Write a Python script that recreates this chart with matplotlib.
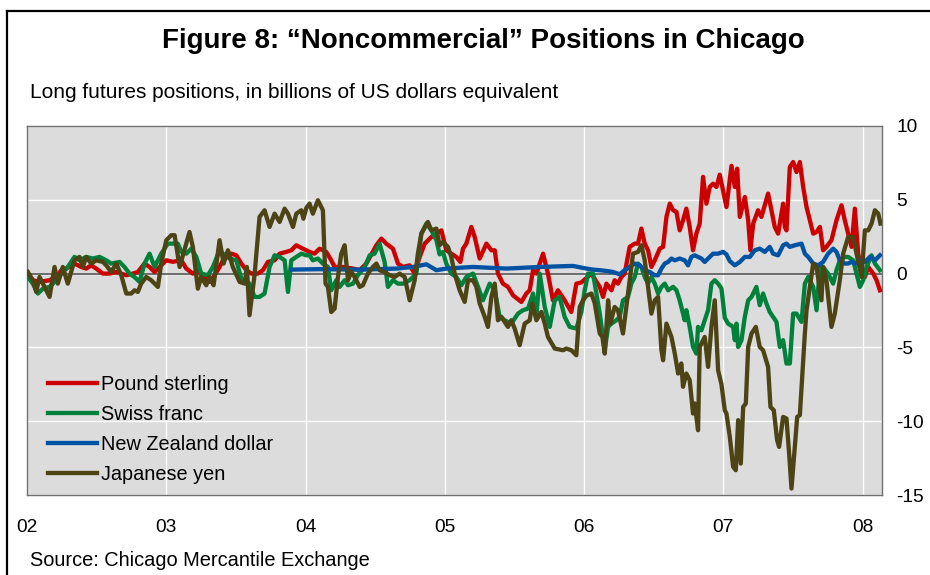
import matplotlib
matplotlib.use("Agg")
import matplotlib.pyplot as plt
from matplotlib.lines import Line2D

plt.rcParams['font.family'] = ['Liberation Sans', 'DejaVu Sans']
plt.rcParams['axes.unicode_minus'] = False

# Weekly noncommercial long positions, billions of USD equivalent (decimal years)
gbp_t = [2002.006, 2002.042, 2002.090, 2002.162, 2002.210, 2002.246, 2002.282, 2002.341, 2002.389, 2002.425,
         2002.461, 2002.497, 2002.545, 2002.593, 2002.641, 2002.677, 2002.713, 2002.760, 2002.796, 2002.844,
         2002.880, 2002.916, 2002.952, 2003.000, 2003.047, 2003.108, 2003.144, 2003.191, 2003.227, 2003.263,
         2003.311, 2003.347, 2003.383, 2003.431, 2003.467, 2003.503, 2003.539, 2003.575, 2003.611, 2003.658,
         2003.694, 2003.730, 2003.778, 2003.814, 2003.862, 2003.898, 2003.934, 2003.981, 2004.029, 2004.065,
         2004.101, 2004.149, 2004.185, 2004.209, 2004.269, 2004.341, 2004.389, 2004.437, 2004.509, 2004.545,
         2004.580, 2004.628, 2004.664, 2004.700, 2004.748, 2004.784, 2004.820, 2004.856, 2004.904, 2004.940,
         2004.976, 2005.011, 2005.047, 2005.083, 2005.112, 2005.131, 2005.155, 2005.191, 2005.215, 2005.251,
         2005.299, 2005.335, 2005.359, 2005.382, 2005.418, 2005.454, 2005.490, 2005.550, 2005.586, 2005.610,
         2005.634, 2005.658, 2005.706, 2005.741, 2005.777, 2005.813, 2005.861, 2005.909, 2005.945, 2005.981,
         2006.017, 2006.053, 2006.113, 2006.137, 2006.161, 2006.197, 2006.220, 2006.244, 2006.268, 2006.292,
         2006.328, 2006.364, 2006.388, 2006.412, 2006.436, 2006.460, 2006.484, 2006.508, 2006.544, 2006.568,
         2006.592, 2006.616, 2006.640, 2006.664, 2006.687, 2006.711, 2006.735, 2006.759, 2006.783, 2006.807,
         2006.831, 2006.855, 2006.879, 2006.903, 2006.927, 2006.951, 2006.975, 2006.999, 2007.023, 2007.059,
         2007.083, 2007.100, 2007.119, 2007.155, 2007.179, 2007.195, 2007.215, 2007.250, 2007.274, 2007.322,
         2007.346, 2007.370, 2007.394, 2007.430, 2007.442, 2007.454, 2007.478, 2007.502, 2007.526, 2007.550,
         2007.574, 2007.598, 2007.622, 2007.646, 2007.670, 2007.694, 2007.717, 2007.741, 2007.777, 2007.813,
         2007.849, 2007.873, 2007.897, 2007.921, 2007.945, 2007.969, 2007.993, 2008.017, 2008.041, 2008.077,
         2008.101, 2008.125]
gbp_v = [-0.11, -0.45, -0.56, -0.45, -0.23, 0.23, 0.34, 0.68, 0.45, 0.34,
         0.56, 0.34, 0.00, 0.00, 0.11, 0.00, -0.11, 0.00, 0.11, 0.68,
         0.45, 0.11, 0.45, 0.90, 0.80, 0.90, 0.34, 0.00, 0.23, -0.23,
         -0.56, -0.11, 0.45, 1.35, 1.35, 1.24, 0.68, 0.23, 0.00, 0.00,
         0.23, 0.79, 0.90, 1.35, 1.47, 1.58, 1.92, 1.69, 1.47, 1.35,
         1.69, 1.47, 0.90, 0.45, 0.45, 0.34, 0.23, 0.68, 1.92, 2.37,
         2.03, 1.69, 0.68, 0.45, 0.56, 0.00, 1.13, 2.03, 2.48, 2.71,
         2.93, 1.58, 1.35, 1.13, 0.79, 1.69, 2.03, 3.16, 2.48, 1.02,
         2.03, 1.58, 1.58, 0.00, -0.68, -0.90, -1.47, -1.92, -1.35, -1.13,
         0.23, 0.00, 1.35, 0.00, -1.81, -1.13, -1.81, -2.60, -0.68, -0.60,
         -0.30, 0.00, -0.90, -1.58, -0.68, -1.13, -0.45, -0.68, -0.23, 0.00,
         1.81, 2.03, 2.03, 3.05, 2.03, 1.58, 0.45, 0.90, 1.69, 1.81,
         3.84, 4.74, 4.29, 4.18, 2.93, 3.61, 4.40, 3.16, 1.58, 2.71,
         3.39, 6.55, 4.74, 5.87, 6.09, 5.87, 6.70, 5.60, 4.51, 7.30,
         5.87, 7.11, 3.84, 5.19, 3.61, 1.58, 3.39, 4.29, 3.84, 5.42,
         4.29, 3.16, 2.71, 4.74, 3.16, 2.93, 7.22, 7.56, 6.88, 7.56,
         5.87, 4.51, 3.61, 2.71, 2.82, 3.16, 1.58, 1.81, 2.26, 3.61,
         4.63, 3.61, 2.71, 1.81, 4.40, 1.35, 0.00, -0.23, 0.45, 0.00,
         -0.45, -1.13]

chf_t = [2002.006, 2002.042, 2002.078, 2002.114, 2002.162, 2002.210, 2002.257, 2002.293, 2002.341, 2002.377,
         2002.425, 2002.473, 2002.521, 2002.569, 2002.605, 2002.665, 2002.700, 2002.736, 2002.772, 2002.808,
         2002.844, 2002.880, 2002.916, 2002.964, 2003.011, 2003.047, 2003.083, 2003.108, 2003.144, 2003.180,
         2003.216, 2003.251, 2003.299, 2003.335, 2003.383, 2003.419, 2003.455, 2003.503, 2003.539, 2003.598,
         2003.634, 2003.670, 2003.706, 2003.742, 2003.778, 2003.814, 2003.850, 2003.874, 2003.898, 2003.934,
         2003.970, 2004.006, 2004.029, 2004.053, 2004.089, 2004.125, 2004.161, 2004.185, 2004.221, 2004.245,
         2004.281, 2004.305, 2004.341, 2004.376, 2004.425, 2004.461, 2004.496, 2004.532, 2004.568, 2004.592,
         2004.628, 2004.664, 2004.700, 2004.748, 2004.796, 2004.832, 2004.868, 2004.904, 2004.940, 2004.963,
         2004.987, 2005.011, 2005.047, 2005.083, 2005.119, 2005.155, 2005.203, 2005.239, 2005.274, 2005.323,
         2005.359, 2005.394, 2005.430, 2005.478, 2005.526, 2005.562, 2005.598, 2005.634, 2005.658, 2005.682,
         2005.718, 2005.754, 2005.790, 2005.825, 2005.861, 2005.897, 2005.945, 2005.981, 2006.005, 2006.029,
         2006.065, 2006.089, 2006.113, 2006.149, 2006.173, 2006.197, 2006.232, 2006.256, 2006.280, 2006.316,
         2006.340, 2006.364, 2006.388, 2006.412, 2006.436, 2006.460, 2006.484, 2006.508, 2006.532, 2006.556,
         2006.580, 2006.604, 2006.640, 2006.664, 2006.687, 2006.723, 2006.735, 2006.759, 2006.783, 2006.807,
         2006.819, 2006.843, 2006.867, 2006.891, 2006.915, 2006.939, 2006.963, 2006.987, 2007.011, 2007.035,
         2007.071, 2007.083, 2007.095, 2007.107, 2007.131, 2007.155, 2007.179, 2007.203, 2007.238, 2007.262,
         2007.286, 2007.310, 2007.334, 2007.358, 2007.382, 2007.406, 2007.430, 2007.454, 2007.478, 2007.502,
         2007.526, 2007.562, 2007.586, 2007.610, 2007.646, 2007.670, 2007.694, 2007.717, 2007.753, 2007.789,
         2007.813, 2007.837, 2007.873, 2007.897, 2007.933, 2007.957, 2007.981, 2008.005, 2008.029, 2008.065,
         2008.089, 2008.125]
chf_v = [-0.23, -0.68, -1.35, -1.02, -0.90, -0.45, 0.11, 0.45, 1.13, 0.90,
         1.13, 1.02, 1.13, 0.90, 0.68, 0.79, 0.45, 0.00, -0.23, -0.56,
         0.68, 1.35, 0.45, 1.35, 2.03, 2.03, 2.03, 1.47, 1.35, 1.69,
         1.13, 0.00, -0.11, 0.45, 1.58, 1.24, 1.02, 0.90, -0.34, -0.68,
         -1.58, -1.58, -1.35, 0.45, 1.24, 1.13, 0.90, -1.24, 0.90, 1.13,
         1.35, 1.24, 1.24, 0.90, 1.02, 0.68, 0.45, -1.13, -0.45, -0.90,
         -0.45, -0.79, -0.68, -0.11, 0.45, 1.24, 1.35, 2.03, 0.79, -0.90,
         -0.45, -0.68, -0.68, -0.45, 0.00, 2.71, 3.39, 2.93, 2.26, 1.30,
         1.47, 0.68, 0.00, -0.23, -0.79, -0.23, 0.00, -0.90, -1.81, -0.68,
         -1.13, -2.93, -3.16, -3.39, -2.71, -2.48, -2.37, -1.35, -2.93, 0.00,
         -2.26, -3.61, -1.81, -1.58, -2.93, -3.61, -3.72, -2.60, -1.13, 0.00,
         0.00, -1.35, -2.71, -5.19, -3.61, -3.39, -3.16, -2.93, -1.81, -1.58,
         -0.68, -0.23, 0.68, 0.45, -0.23, -0.68, -0.23, -0.68, -1.35, -0.90,
         -0.68, -1.13, -0.90, -1.13, -1.81, -3.16, -2.48, -3.61, -4.97, -5.42,
         -3.61, -3.84, -3.16, -2.48, -0.68, -0.45, -0.68, -1.00, -3.00, -3.39,
         -3.61, -4.51, -3.39, -4.97, -4.51, -2.93, -1.81, -1.58, -0.90, -2.14,
         -1.35, -2.03, -2.60, -2.93, -3.27, -4.97, -4.51, -6.09, -6.09, -2.71,
         -2.71, -3.27, -0.68, -0.23, -0.90, -2.48, 0.45, 0.45, 0.00, -0.68,
         0.23, 0.90, 1.13, 1.13, 0.90, 0.00, -0.90, -0.45, 0.45, 1.24,
         0.68, 0.23]

nzd_t = [2003.898, 2004.100, 2004.400, 2004.650, 2004.772, 2004.868, 2004.940, 2005.011, 2005.203, 2005.442,
         2005.682, 2005.921, 2006.017, 2006.065, 2006.113, 2006.161, 2006.208, 2006.256, 2006.292, 2006.328,
         2006.364, 2006.400, 2006.436, 2006.472, 2006.508, 2006.532, 2006.556, 2006.580, 2006.604, 2006.628,
         2006.652, 2006.687, 2006.723, 2006.747, 2006.771, 2006.795, 2006.819, 2006.843, 2006.867, 2006.891,
         2006.927, 2006.963, 2006.999, 2007.023, 2007.047, 2007.083, 2007.119, 2007.155, 2007.191, 2007.226,
         2007.262, 2007.298, 2007.334, 2007.358, 2007.394, 2007.430, 2007.454, 2007.478, 2007.514, 2007.562,
         2007.586, 2007.610, 2007.646, 2007.682, 2007.717, 2007.753, 2007.789, 2007.813, 2007.837, 2007.873,
         2007.897, 2007.921, 2007.945, 2007.981, 2008.017, 2008.053, 2008.089, 2008.125]
nzd_v = [0.27, 0.30, 0.27, 0.34, 0.45, 0.63, 0.23, 0.34, 0.45, 0.34,
         0.45, 0.52, 0.34, 0.27, 0.23, 0.18, 0.11, -0.05, 0.23, 0.45,
         0.68, 0.56, 0.23, 0.11, -0.11, -0.11, 0.34, 0.68, 0.79, 1.02,
         0.90, 1.02, 0.90, 0.56, 1.13, 1.24, 1.13, 1.02, 0.79, 1.02,
         1.35, 1.35, 1.47, 1.30, 0.85, 0.56, 0.79, 1.13, 1.13, 1.58,
         1.69, 1.47, 1.81, 1.35, 1.24, 1.92, 2.03, 1.81, 1.92, 2.03,
         1.35, 1.13, 0.68, 0.56, 0.79, 1.35, 1.69, 1.47, 0.90, 0.68,
         0.68, 0.79, 0.68, 0.90, 0.79, 1.13, 0.90, 1.24]

jpy_t = [2002.006, 2002.042, 2002.066, 2002.090, 2002.126, 2002.162, 2002.198, 2002.221, 2002.257, 2002.293,
         2002.341, 2002.377, 2002.401, 2002.425, 2002.461, 2002.497, 2002.545, 2002.569, 2002.605, 2002.641,
         2002.677, 2002.713, 2002.749, 2002.772, 2002.796, 2002.820, 2002.856, 2002.892, 2002.940, 2002.964,
         2003.000, 2003.036, 2003.060, 2003.096, 2003.167, 2003.191, 2003.227, 2003.251, 2003.287, 2003.311,
         2003.340, 2003.383, 2003.412, 2003.443, 2003.478, 2003.527, 2003.563, 2003.579, 2003.598, 2003.634,
         2003.670, 2003.706, 2003.742, 2003.778, 2003.814, 2003.850, 2003.874, 2003.910, 2003.934, 2003.970,
         2003.985, 2004.006, 2004.029, 2004.053, 2004.089, 2004.125, 2004.144, 2004.161, 2004.185, 2004.209,
         2004.233, 2004.257, 2004.281, 2004.305, 2004.329, 2004.353, 2004.389, 2004.412, 2004.448, 2004.484,
         2004.509, 2004.532, 2004.568, 2004.604, 2004.640, 2004.676, 2004.712, 2004.748, 2004.784, 2004.807,
         2004.832, 2004.879, 2004.904, 2004.940, 2004.963, 2004.987, 2005.023, 2005.047, 2005.071, 2005.107,
         2005.143, 2005.167, 2005.203, 2005.227, 2005.251, 2005.287, 2005.310, 2005.335, 2005.359, 2005.382,
         2005.407, 2005.430, 2005.454, 2005.478, 2005.502, 2005.538, 2005.574, 2005.610, 2005.629, 2005.658,
         2005.694, 2005.718, 2005.741, 2005.790, 2005.849, 2005.873, 2005.909, 2005.945, 2005.969, 2005.993,
         2006.017, 2006.053, 2006.077, 2006.113, 2006.132, 2006.149, 2006.161, 2006.173, 2006.189, 2006.220,
         2006.244, 2006.280, 2006.304, 2006.328, 2006.352, 2006.388, 2006.412, 2006.436, 2006.460, 2006.484,
         2006.508, 2006.532, 2006.556, 2006.568, 2006.592, 2006.628, 2006.652, 2006.676, 2006.699, 2006.711,
         2006.735, 2006.759, 2006.783, 2006.795, 2006.819, 2006.831, 2006.867, 2006.891, 2006.915, 2006.939,
         2006.963, 2006.987, 2007.011, 2007.023, 2007.047, 2007.071, 2007.090, 2007.107, 2007.126, 2007.143,
         2007.162, 2007.179, 2007.203, 2007.234, 2007.262, 2007.286, 2007.322, 2007.339, 2007.363, 2007.387,
         2007.401, 2007.430, 2007.454, 2007.473, 2007.490, 2007.531, 2007.550, 2007.586, 2007.598, 2007.622,
         2007.646, 2007.670, 2007.705, 2007.717, 2007.741, 2007.777, 2007.801, 2007.837, 2007.861, 2007.897,
         2007.933, 2007.957, 2007.993, 2008.017, 2008.041, 2008.065, 2008.089, 2008.113, 2008.129]
jpy_v = [0.11, -0.45, -1.24, -0.23, -0.90, -1.58, 0.45, -0.68, 0.45, -0.68,
         0.90, 1.13, 0.45, 1.13, 0.68, 0.90, 0.79, 0.56, 0.11, 0.68,
         -0.11, -1.35, -1.35, -1.13, -1.24, -0.68, -0.23, -0.45, -0.90, 0.68,
         2.26, 2.60, 2.60, 0.45, 2.82, 1.81, -1.02, -0.23, -0.79, -0.23,
         -0.79, 2.26, 0.68, 1.58, 0.45, -0.56, -0.68, 0.45, -2.82, -0.11,
         3.84, 4.29, 3.16, 4.06, 3.50, 4.40, 4.06, 3.16, 4.06, 4.29,
         3.72, 4.45, 4.74, 4.06, 4.97, 4.29, -0.68, -0.90, -2.60, -2.37,
         -0.23, 1.35, 1.92, -0.45, 0.11, -0.23, -0.90, -0.79, 0.00, 0.45,
         0.68, 0.23, 0.11, -0.11, -0.23, 0.00, -0.23, -1.81, -0.45, 1.35,
         2.71, 3.50, 2.93, 3.05, 1.92, 2.14, 1.81, 1.13, 0.00, -1.13,
         -1.92, -0.45, -0.45, -0.90, -2.03, -2.93, -3.61, -1.58, -0.68, -3.16,
         -2.93, -3.27, -3.61, -3.16, -3.72, -4.85, -3.39, -3.16, -2.03, -3.16,
         -2.60, -3.39, -4.29, -5.08, -5.19, -5.08, -5.19, -5.53, -2.26, -1.81,
         -1.50, -1.35, -2.00, -4.06, -4.29, -5.42, -3.61, -1.81, -3.39, -2.26,
         -2.48, -4.06, -2.26, -0.45, 1.35, 1.47, 1.92, 0.90, -0.90, -2.71,
         -1.81, -1.58, -5.19, -5.87, -3.39, -4.29, -5.42, -6.77, -6.09, -7.67,
         -6.77, -7.22, -9.48, -8.80, -10.61, -4.97, -4.29, -6.32, -3.61, -1.81,
         -6.55, -7.50, -9.26, -9.48, -11.06, -13.09, -13.32, -9.93, -12.87, -9.03,
         -8.80, -4.97, -4.06, -3.61, -4.97, -5.19, -6.32, -9.03, -9.26, -11.29,
         -11.74, -9.71, -9.82, -12.19, -14.56, -9.71, -9.59, -4.06, -2.48, -0.90,
         0.68, 0.45, -1.81, 0.45, -0.45, -3.61, -2.71, -0.45, 1.35, 2.48,
         2.48, 1.35, -0.23, 2.93, 2.93, 3.39, 4.29, 4.06, 3.39]

series = [
    (gbp_t, gbp_v, '#CC0000', 'Pound sterling'),
    (chf_t, chf_v, '#00813B', 'Swiss franc'),
    (nzd_t, nzd_v, '#0052A3', 'New Zealand dollar'),
    (jpy_t, jpy_v, '#4D4416', 'Japanese yen'),
]

years = list(range(2002, 2009))
year_labels = ['02', '03', '04', '05', '06', '07', '08']
y_ticks = [-15, -10, -5, 0, 5, 10]

fig = plt.figure(figsize=(9.3, 5.75), dpi=100)
ax = fig.add_axes([27 / 930, 80 / 575, 855 / 930, 369 / 575])
ax.set_facecolor('#DCDCDC')

for t, v, c, name in series:
    ax.plot(t, v, color=c, lw=3.1, label=name, solid_joinstyle='round', zorder=3)

ax.axhline(0, color='#555555', lw=1.2, zorder=2)

ax.set_xlim(2002.0, 2008.14)
ax.set_ylim(-15, 10)
ax.set_xticks(years)
ax.set_xticklabels(year_labels)
ax.set_yticks(y_ticks)
ax.yaxis.tick_right()
ax.tick_params(axis='both', length=0, labelsize=13.8)
ax.tick_params(axis='x', pad=17)
ax.tick_params(axis='y', pad=10.5)
ax.grid(color='white', lw=1)
ax.set_axisbelow(True)
for s in ax.spines.values():
    s.set_color('#707070')
    s.set_linewidth(1)

ax.legend(loc='upper left', bbox_to_anchor=(0.0246, 0.325), frameon=False, fontsize=14.3,
          handlelength=2.45, handletextpad=0.2, labelspacing=0.56, borderaxespad=0, borderpad=0)

fig.text(483 / 930, 1 - 41 / 575, 'Figure 8: “Noncommercial” Positions in Chicago',
         ha='center', va='center', fontsize=20, fontweight='bold')
fig.text(30 / 930, 1 - 92 / 575, 'Long futures positions, in billions of US dollars equivalent',
         ha='left', va='center', fontsize=15)
fig.text(30 / 930, 1 - 560 / 575, 'Source: Chicago Mercantile Exchange',
         ha='left', va='center', fontsize=14.4)

# outer frame, top and left edges
fig.add_artist(Line2D([7 / 930, 1], [1 - 11 / 575, 1 - 11 / 575], color='black', lw=1.6,
                      transform=fig.transFigure))
fig.add_artist(Line2D([7 / 930, 7 / 930], [0, 1 - 11 / 575], color='black', lw=1.6,
                      transform=fig.transFigure))

fig.savefig('out.png', dpi=100)
